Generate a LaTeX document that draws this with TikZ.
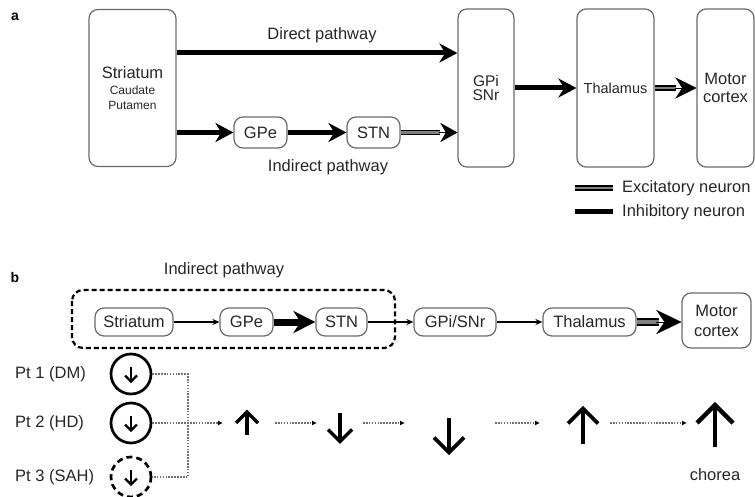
\documentclass[tikz,border=0pt]{standalone}
\usepackage{fontspec}
\setmainfont{Liberation Sans}
\usetikzlibrary{arrows.meta}
\definecolor{boxgray}{HTML}{6A6A6A}
\definecolor{txtgray}{HTML}{262626}
\definecolor{dotgray}{HTML}{707070}
\newcommand{\subfs}{\fontsize{12}{11.5}\selectfont}
\tikzset{
  box/.style={draw=boxgray, line width=1.2pt, rounded corners=9pt, text=txtgray,
    align=center, inner sep=0pt, font=\fontsize{16.5}{15}\selectfont},
  lbl/.style={text=txtgray, inner sep=0pt, font=\fontsize{16.5}{18}\selectfont},
  panel/.style={inner sep=0pt, font=\fontsize{14}{14}\selectfont\bfseries},
  inhib/.style={line width=5pt, -{Stealth[length=18pt,width=19pt]}},
  excit/.style={line width=1.5pt, double=black!50, double distance=2.8pt},
  thin/.style={line width=1.3pt, -{Stealth[length=7pt,width=6pt]}},
  dotted arrow/.style={dotgray, line width=1.3pt, dash pattern=on 1.6pt off 1.3pt,
    -{Latex[length=5pt,width=5pt,black]}},
  pt circle/.style={circle, draw, line width=2.7pt, minimum size=40pt, inner sep=0pt},
}
\begin{document}
\begin{tikzpicture}[x=1pt,y=-1pt]
\useasboundingbox (0,0) rectangle (755,497);
% Panel a
\node[panel] (pa) at (15,17) {a};
\node[box, minimum width=87pt, minimum height=157pt] (stri) at (132.5,88)
  {Striatum\\[1pt]\subfs Caudate\\\subfs Putamen};
\node[box, minimum width=53pt, minimum height=31pt] (gpe) at (260.5,132.5) {GPe};
\node[box, minimum width=53pt, minimum height=31pt] (stn) at (373.5,132.5) {STN};
\node[box, minimum width=56pt, minimum height=158pt, font=\fontsize{15.5}{14.5}\selectfont] (gpi) at (486,88) {GPi\\SNr};
\node[box, minimum width=77pt, minimum height=158pt, font=\fontsize{14.5}{15}\selectfont] (thal) at (615.5,88) {Thalamus};
\node[box, minimum width=57pt, minimum height=158pt, font=\fontsize{16.5}{18}\selectfont] (motor) at (725.5,88) {Motor\\cortex};
\coordinate (dirlev) at (0,53);
% Connections
\draw[inhib] (stri.east |- dirlev) -- (gpi.west |- dirlev);
\draw[inhib] (stri.east |- gpe) -- (gpe.west);
\draw[inhib] (gpe.east) -- (stn.west);
\draw[excit] (stn.east) -- ([xshift=-17pt]gpi.west |- stn);
\draw[-{Stealth[length=17pt,width=19pt]}, line width=0.1pt] ([xshift=-18pt]gpi.west |- stn) -- (gpi.west |- stn);
\draw[inhib] (gpi.east) -- (thal.west);
\draw[excit] (thal.east) -- ([xshift=-20pt]motor.west);
\draw[-{Stealth[length=21pt,width=21pt]}, line width=0.1pt] ([xshift=-21pt]motor.west) -- (motor.west);
\node[lbl] (dirtxt) at (322,35) {Direct pathway};
\node[lbl] (indtxt) at (328,167) {Indirect pathway};
% Legend
\coordinate (exA) at (575,188);
\coordinate (exB) at (613,188);
\coordinate (inA) at (575,212);
\coordinate (inB) at (613,212);
\draw[excit] (exA) -- (exB);
\draw[line width=5pt] (inA) -- (inB);
\node[lbl, anchor=west] (extxt) at (622,188) {Excitatory neuron};
\node[lbl, anchor=west] (intxt) at (622,212) {Inhibitory neuron};
% Panel b
\node[panel] (pb) at (15,277) {b};
\node[lbl] (indb) at (224,270) {Indirect pathway};
\draw[line width=2.2pt, dash pattern=on 5pt off 3pt, rounded corners=11pt] (72,290) rectangle (395,348);
\node[box, minimum width=78pt, minimum height=28pt] (bstri) at (134,322) {Striatum};
\node[box, minimum width=53pt, minimum height=28pt] (bgpe) at (246.5,322) {GPe};
\node[box, minimum width=51pt, minimum height=28pt] (bstn) at (341.5,322) {STN};
\node[box, minimum width=82pt, minimum height=28pt] (bgpi) at (455,322) {GPi/SNr};
\node[box, minimum width=93pt, minimum height=28pt] (bthal) at (589.5,322) {Thalamus};
\node[box, minimum width=69pt, minimum height=55pt, font=\fontsize{16.5}{20}\selectfont] (bmotor) at (716.5,320.5) {Motor\\cortex};
\draw[thin] (bstri) -- (bgpe);
\draw[line width=7pt, -{Stealth[length=22pt,width=22pt]}] (bgpe) -- (bstn);
\draw[thin] (bstn) -- (bgpi);
\draw[thin] (bgpi) -- (bthal);
\draw[excit, line width=1.8pt, double distance=3.6pt] (bthal.east) -- ([xshift=-22pt]bmotor.west |- bthal);
\draw[-{Stealth[length=25pt,width=24pt]}, line width=0.1pt] ([xshift=-25pt]bmotor.west |- bthal) -- (bmotor.west |- bthal);
% Patients
\node[lbl, anchor=west] (pt1) at (15,374) {Pt 1 (DM)};
\node[lbl, anchor=west] (pt2) at (15,423) {Pt 2 (HD)};
\node[lbl, anchor=west] (pt3) at (15,477) {Pt 3 (SAH)};
\node[pt circle] (c1) at (131,374) {};
\node[pt circle] (c2) at (131,423) {};
\node[pt circle, dash pattern=on 6pt off 4pt] (c3) at (131,477) {};
% Up and down arrows
\foreach \gx/\gy/\gh/\gw/\gs/\gl in {131/374/15/6/1/2.2, 131/423/15/6/1/2.2, 131/477/15/6/1/2.2,
    247/423.5/23/11/-1/3.2, 340/427/29/12/1/3.4, 449/435/35/15/1/3.8,
    583/426/35/15/-1/3.8, 715/426/42/18/-1/4.4} {
  \draw[line width=\gl pt] (\gx,\gy-\gs*\gh/2) -- (\gx,\gy+\gs*\gh/2-\gs*1);
  \draw[line width=\gl pt, line join=miter] (\gx-\gw,\gy+\gs*\gh/2-\gs*\gw) -- (\gx,\gy+\gs*\gh/2) -- (\gx+\gw,\gy+\gs*\gh/2-\gs*\gw);
}
\coordinate (g1) at (247,423);
\coordinate (g2) at (340,423);
\coordinate (g3) at (449,423);
\coordinate (g4) at (583,423);
\coordinate (g5) at (715,423);
\coordinate (jn) at (188,0);
\draw[dotgray, line width=1.3pt, dash pattern=on 1.6pt off 1.3pt] (c1.east) -- (c1.east -| jn) -- (c3.east -| jn) -- (c3.east);
\draw[dotted arrow] (c2.east) -- ([xshift=-24pt]g1);
\draw[dotted arrow] ([xshift=28pt]g1) -- ([xshift=-23pt]g2);
\draw[dotted arrow] ([xshift=23pt]g2) -- ([xshift=-44pt]g3);
\draw[dotted arrow] ([xshift=46pt]g3) -- ([xshift=-43pt]g4);
\draw[dotted arrow] ([xshift=27pt]g4) -- ([xshift=-28pt]g5);
\node[lbl] (chorea) at (715,475) {chorea};
\end{tikzpicture}
\end{document}
